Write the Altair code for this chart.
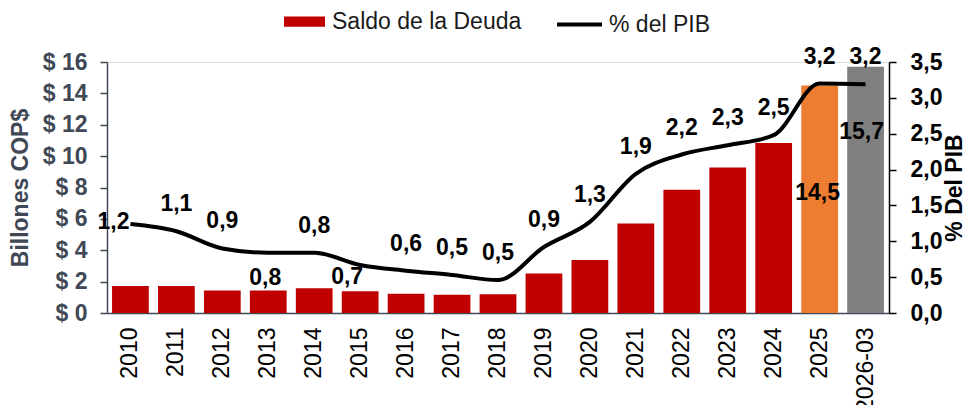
import altair as alt
import pandas as pd

years = ["2010", "2011", "2012", "2013", "2014", "2015", "2016", "2017", "2018",
         "2019", "2020", "2021", "2022", "2023", "2024", "2025", "2026-03"]
saldo = [1.72, 1.72, 1.44, 1.44, 1.57, 1.38, 1.23, 1.17, 1.19,
         2.51, 3.38, 5.70, 7.86, 9.27, 10.84, 14.5, 15.7]
pct_pib = [1.24, 1.14, 0.90, 0.84, 0.84, 0.67, 0.59, 0.53, 0.46,
           0.92, 1.27, 1.94, 2.21, 2.34, 2.48, 3.20, 3.19]
tipo = ["Saldo de la Deuda"] * 15 + ["Saldo 2025", "Saldo 2026-03"]

tipo_domain = ["Saldo de la Deuda", "Saldo 2025", "Saldo 2026-03"]
tipo_colors = ["#C00000", "#ED7D31", "#808080"]

left_ticks = [0, 2, 4, 6, 8, 10, 12, 14, 16]
right_ticks = [0, 0.5, 1.0, 1.5, 2.0, 2.5, 3.0, 3.5]

df = pd.DataFrame({"anio": years, "saldo": saldo, "pct": pct_pib, "tipo": tipo})

FONT = "Liberation Sans"
SLATE = "#404856"

base = alt.Chart(df).transform_calculate(
    pct_lbl="replace(format(datum.pct, '.1f'), '.', ',')",
    saldo_lbl="replace(format(datum.saldo, '.1f'), '.', ',')",
    serie="'% del PIB'",
)

x = alt.X(
    "anio:N", sort=years, title=None,
    scale=alt.Scale(paddingInner=0.2, paddingOuter=0.11),
    axis=alt.Axis(labelAngle=270, labelFont=FONT, labelFontSize=23, labelColor="#000000",
                  ticks=False, domainColor=SLATE, domainWidth=1.5, labelPadding=14),
)

y_left = alt.Y(
    "saldo:Q",
    scale=alt.Scale(domain=[0, 16], nice=False),
    axis=alt.Axis(values=left_ticks, labelExpr="'$ ' + datum.value", grid=False,
                  labelFont=FONT, labelFontSize=23, labelFontWeight="bold", labelColor=SLATE,
                  domainColor=SLATE, domainWidth=1.5, tickColor=SLATE, tickSize=7, tickWidth=1.5,
                  labelPadding=13, title="Billones COP$", titleFont=FONT, titleFontSize=23,
                  titleFontWeight="bold", titleColor=SLATE, titlePadding=10),
)

y_right = alt.Y(
    "pct:Q",
    scale=alt.Scale(domain=[0, 3.5], nice=False),
    axis=alt.Axis(orient="right", values=right_ticks,
                  labelExpr="replace(format(datum.value, '.1f'), '.', ',')", grid=False,
                  labelFont=FONT, labelFontSize=23, labelFontWeight="bold", labelColor="#000000",
                  domainColor="#000000", domainWidth=1.5, tickColor="#000000", tickSize=7,
                  tickWidth=1.5, labelPadding=14, title="% Del PIB", titleFont=FONT,
                  titleFontSize=23, titleFontWeight="bold", titleColor="#000000",
                  titleAngle=270, titleBaseline="top", titlePadding=2),
)

bars = base.mark_bar().encode(
    x=x, y=y_left,
    color=alt.Color(
        "tipo:N",
        scale=alt.Scale(domain=tipo_domain, range=tipo_colors),
        legend=alt.Legend(values=["Saldo de la Deuda"], title=None, orient="none",
                          legendX=176, legendY=-62, symbolType="M-1,-0.25H1V0.25H-1Z",
                          symbolSize=1681, symbolOpacity=1, labelFont=FONT, labelFontSize=23,
                          labelColor="#1A1A1A", labelOffset=6, labelLimit=400),
    ),
)

txt_style = dict(font=FONT, fontSize=23, fontWeight="bold", color="#000000", baseline="middle")

bar_lbl_2025 = base.transform_filter(alt.FieldOneOfPredicate(field="anio", oneOf=["2025"])).mark_text(
    dy=107, dx=-2, **txt_style).encode(x=x, y=y_left, text="saldo_lbl:N")
bar_lbl_2026 = base.transform_filter(alt.FieldOneOfPredicate(field="anio", oneOf=["2026-03"])).mark_text(
    dy=65, dx=-4, **txt_style).encode(x=x, y=y_left, text="saldo_lbl:N")

left_group = alt.layer(bars, bar_lbl_2025, bar_lbl_2026)

line = base.mark_line(interpolate="monotone", strokeWidth=4).encode(
    x=x, y=y_right,
    stroke=alt.Stroke(
        "serie:N",
        scale=alt.Scale(domain=["% del PIB"], range=["#000000"]),
        legend=alt.Legend(title=None, orient="none", legendX=448, legendY=-62,
                          symbolType="stroke", symbolSize=2025, symbolStrokeWidth=4,
                          labelFont=FONT, labelFontSize=23, labelColor="#1A1A1A", labelOffset=5,
                          labelLimit=400),
    ),
)

special = ["2010", "2013", "2015"]
lbl_main = base.transform_filter(
    alt.LogicalNotPredicate(**{"not": alt.FieldOneOfPredicate(field="anio", oneOf=special)})
).mark_text(dy=-27, **txt_style).encode(x=x, y=y_right, text="pct_lbl:N")
lbl_2010 = base.transform_filter(alt.FieldOneOfPredicate(field="anio", oneOf=["2010"])).mark_text(
    dx=-17, dy=-2, **txt_style).encode(x=x, y=y_right, text="pct_lbl:N")
lbl_2013 = base.transform_filter(alt.FieldOneOfPredicate(field="anio", oneOf=["2013"])).mark_text(
    dx=-3, dy=25, **txt_style).encode(x=x, y=y_right, text="pct_lbl:N")
lbl_2015 = base.transform_filter(alt.FieldOneOfPredicate(field="anio", oneOf=["2015"])).mark_text(
    dx=-13, dy=12, **txt_style).encode(x=x, y=y_right, text="pct_lbl:N")

right_group = alt.layer(line, lbl_main, lbl_2010, lbl_2013, lbl_2015)

chart = alt.layer(left_group, right_group).resolve_scale(y="independent").properties(
    width=782, height=251,
    autosize=alt.AutoSizeParams(type="none"),
    padding={"left": 99, "top": 54, "right": 78, "bottom": 92},
).configure_view(stroke=None).configure(background="white")

chart.save("out.html", embed_options={"renderer": "svg", "actions": False})
